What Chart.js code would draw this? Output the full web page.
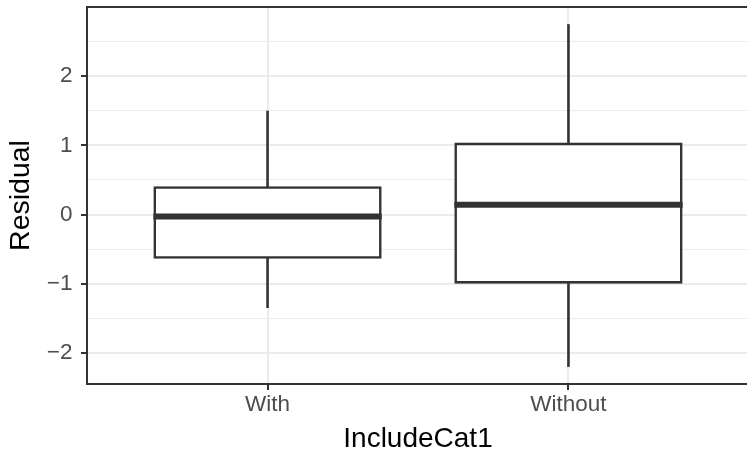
<!DOCTYPE html>
<html>
<head>
<meta charset="utf-8">
<script src="https://cdn.jsdelivr.net/npm/chart.js@4/dist/chart.umd.min.js"></script>
<style>
  html, body { margin: 0; padding: 0; background: #ffffff; overflow: hidden; }
  #wrap { width: 752px; height: 455px; }
</style>
</head>
<body>
<div id="wrap"><canvas id="chart" width="752" height="455"></canvas></div>
<script>
// Residual distribution per group: box-and-whisker summaries
const categories = ['With', 'Without'];
const lowerWhisker = [-1.35, -2.2];
const lowerQuartile = [-0.62, -0.98];
const medians = [-0.03, 0.14];
const upperQuartile = [0.39, 1.02];
const upperWhisker = [1.5, 2.75];

// Y axis: labelled ticks and the half-step minor grid
const yTickValues = [-2, -1, 0, 1, 2];
const yMinorValues = [-1.5, -0.5, 0.5, 1.5, 2.5];

const INK = '#333333';
const GRID = '#EBEBEB';
const TICK_TEXT = '#4D4D4D';
const FONT = "'Liberation Sans', Arial, Helvetica, sans-serif";
const LINE = 2.6;

// 5% expansion around the data range
const dataLo = Math.min(...lowerWhisker);
const dataHi = Math.max(...upperWhisker);
const pad = (dataHi - dataLo) * 0.05;

const xPos = categories.map((c, i) => i + 1);
const boxData = xPos.map((x, i) => ({ x, y: [lowerQuartile[i], upperQuartile[i]] }));
const upperWhiskerData = xPos.map((x, i) => ({ x, y: [upperQuartile[i], upperWhisker[i]] }));
const lowerWhiskerData = xPos.map((x, i) => ({ x, y: [lowerWhisker[i], lowerQuartile[i]] }));

const fmt = v => (v < 0 ? '\u2212' + Math.abs(v) : String(v));

// Panel frame and median lines
const boxExtras = {
  id: 'boxExtras',
  beforeDatasetsDraw(chart) {
    const { ctx, chartArea: a } = chart;
    ctx.save();
    ctx.strokeStyle = INK;
    ctx.lineWidth = 2;
    ctx.strokeRect(a.left, a.top, a.right - a.left, a.bottom - a.top);
    ctx.restore();
  },
  afterDatasetsDraw(chart) {
    const { ctx } = chart;
    const ys = chart.scales.y;
    const bars = chart.getDatasetMeta(0).data;
    ctx.save();
    ctx.strokeStyle = INK;
    ctx.lineWidth = 6;
    ctx.lineCap = 'butt';
    medians.forEach((m, i) => {
      const bar = bars[i];
      const y = ys.getPixelForValue(m);
      ctx.beginPath();
      ctx.moveTo(bar.x - bar.width / 2 - LINE / 2, y);
      ctx.lineTo(bar.x + bar.width / 2 + LINE / 2, y);
      ctx.stroke();
    });
    ctx.restore();
  }
};

new Chart(document.getElementById('chart'), {
  type: 'bar',
  data: {
    datasets: [
      {
        label: 'box',
        data: boxData,
        backgroundColor: '#ffffff',
        borderColor: INK,
        borderWidth: LINE,
        borderSkipped: false,
        inflateAmount: LINE / 2,
        barPercentage: 0.75,
        categoryPercentage: 1,
        grouped: false
      },
      {
        label: 'upper whisker',
        data: upperWhiskerData,
        backgroundColor: INK,
        borderWidth: 0,
        barThickness: LINE,
        inflateAmount: 0,
        grouped: false
      },
      {
        label: 'lower whisker',
        data: lowerWhiskerData,
        backgroundColor: INK,
        borderWidth: 0,
        barThickness: LINE,
        inflateAmount: 0,
        grouped: false
      }
    ]
  },
  options: {
    responsive: false,
    animation: false,
    layout: { padding: { top: 7, right: 3, left: 0, bottom: 0 } },
    plugins: { legend: { display: false }, tooltip: { enabled: false } },
    scales: {
      x: {
        type: 'linear',
        offset: false,
        min: 0.4,
        max: categories.length + 0.6,
        afterBuildTicks: s => { s.ticks = xPos.map(v => ({ value: v })); },
        afterFit: s => { s.height = 71; s.paddingLeft = 0; s.paddingRight = 0; },
        border: { display: false },
        grid: { offset: false, color: GRID, lineWidth: 2, tickColor: INK, tickWidth: 2, tickLength: 6 },
        ticks: {
          callback: v => categories[Math.round(v) - 1],
          color: TICK_TEXT,
          font: { family: FONT, size: 22.5, lineHeight: 1 },
          padding: 4,
          maxRotation: 0,
          autoSkip: false
        },
        title: {
          display: true,
          text: 'IncludeCat1',
          color: '#000000',
          font: { family: FONT, size: 28, lineHeight: 1 },
          padding: { top: 0, bottom: 1.5 }
        }
      },
      y: {
        type: 'linear',
        min: dataLo - pad,
        max: dataHi + pad,
        afterBuildTicks: s => {
          s.ticks = [...yTickValues, ...yMinorValues].sort((a, b) => a - b).map(v => ({ value: v }));
        },
        afterFit: s => { s.width = 87; s.paddingTop = 0; s.paddingBottom = 0; },
        border: { display: false },
        grid: {
          color: GRID,
          lineWidth: c => (yTickValues.includes(c.tick && c.tick.value) ? 2 : 1),
          tickColor: c => (yTickValues.includes(c.tick && c.tick.value) ? INK : 'rgba(0,0,0,0)'),
          tickWidth: 2,
          tickLength: 6
        },
        ticks: {
          callback: v => (yTickValues.includes(v) ? fmt(v) : ''),
          color: TICK_TEXT,
          font: { family: FONT, size: 22.5, lineHeight: 1 },
          padding: 8.5,
          autoSkip: false
        },
        title: {
          display: true,
          text: 'Residual',
          color: '#000000',
          font: { family: FONT, size: 28.5, lineHeight: 1 },
          padding: { top: 6.8, bottom: 0 }
        }
      }
    }
  },
  plugins: [boxExtras]
});
</script>
</body>
</html>
